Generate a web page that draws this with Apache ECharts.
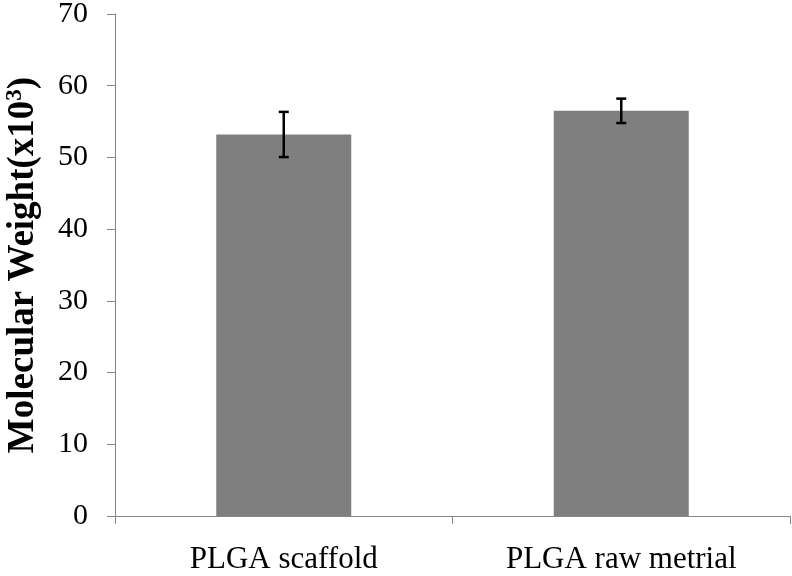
<!DOCTYPE html>
<html>
<head>
<meta charset="utf-8">
<script src="https://cdn.jsdelivr.net/npm/echarts@6/dist/echarts.min.js"></script>
<style>html,body{margin:0;padding:0;background:#fff}#c{width:792px;height:576px}</style>
</head>
<body>
<div id="c"></div>
<script>
var categories = ['PLGA scaffold', 'PLGA raw metrial'];
var values = [53.2, 56.5];
var errors = [3.15, 1.7];
var yTicks = [0, 10, 20, 30, 40, 50, 60, 70];

var chart = echarts.init(document.getElementById('c'), null, {renderer: 'canvas'});
var font = '"Liberation Serif", "Times New Roman", serif';
var axisColor = '#868686';
chart.setOption({
  animation: false,
  backgroundColor: '#fff',
  grid: {left: 115, right: 2, top: 14, bottom: 60, containLabel: false, outerBoundsMode: 'none'},
  xAxis: {
    type: 'category',
    data: categories,
    axisLine: {show: true, lineStyle: {color: axisColor, width: 1}},
    axisTick: {show: true, length: 8, lineStyle: {color: axisColor}},
    axisLabel: {fontFamily: font, fontSize: 31, color: '#000', margin: 28}
  },
  yAxis: {
    type: 'value',
    min: yTicks[0],
    max: yTicks[yTicks.length - 1],
    interval: 10,
    splitLine: {show: false},
    axisLine: {show: true, lineStyle: {color: axisColor, width: 1}},
    axisTick: {show: true, length: 8, lineStyle: {color: axisColor}},
    axisLabel: {fontFamily: font, fontSize: 30, color: '#000', margin: 27},
    name: 'Molecular Weight(x10{sup|3})',
    nameLocation: 'middle',
    nameGap: 72,
    nameRotate: 90,
    nameTextStyle: {
      fontFamily: font, fontSize: 37, fontWeight: 'bold', color: '#000',
      rich: {sup: {fontFamily: font, fontSize: 23, fontWeight: 'bold', color: '#000', padding: [0, 0, 16, 0]}}
    }
  },
  series: [
    {
      type: 'bar',
      data: values,
      barWidth: '40%',
      itemStyle: {color: '#7f7f7f'}
    },
    {
      type: 'custom',
      data: values.map(function (v, i) { return [i, v, errors[i]]; }),
      renderItem: function (params, api) {
        var i = api.value(0), v = api.value(1), e = api.value(2);
        var hi = api.coord([i, v + e]);
        var lo = api.coord([i, v - e]);
        var w = 5;
        var st = {stroke: '#000', lineWidth: 2.5};
        return {
          type: 'group',
          children: [
            {type: 'line', shape: {x1: hi[0], y1: hi[1], x2: lo[0], y2: lo[1]}, style: st},
            {type: 'line', shape: {x1: hi[0] - w, y1: hi[1], x2: hi[0] + w, y2: hi[1]}, style: st},
            {type: 'line', shape: {x1: lo[0] - w, y1: lo[1], x2: lo[0] + w, y2: lo[1]}, style: st}
          ]
        };
      },
      z: 10
    }
  ]
});
</script>
</body>
</html>
